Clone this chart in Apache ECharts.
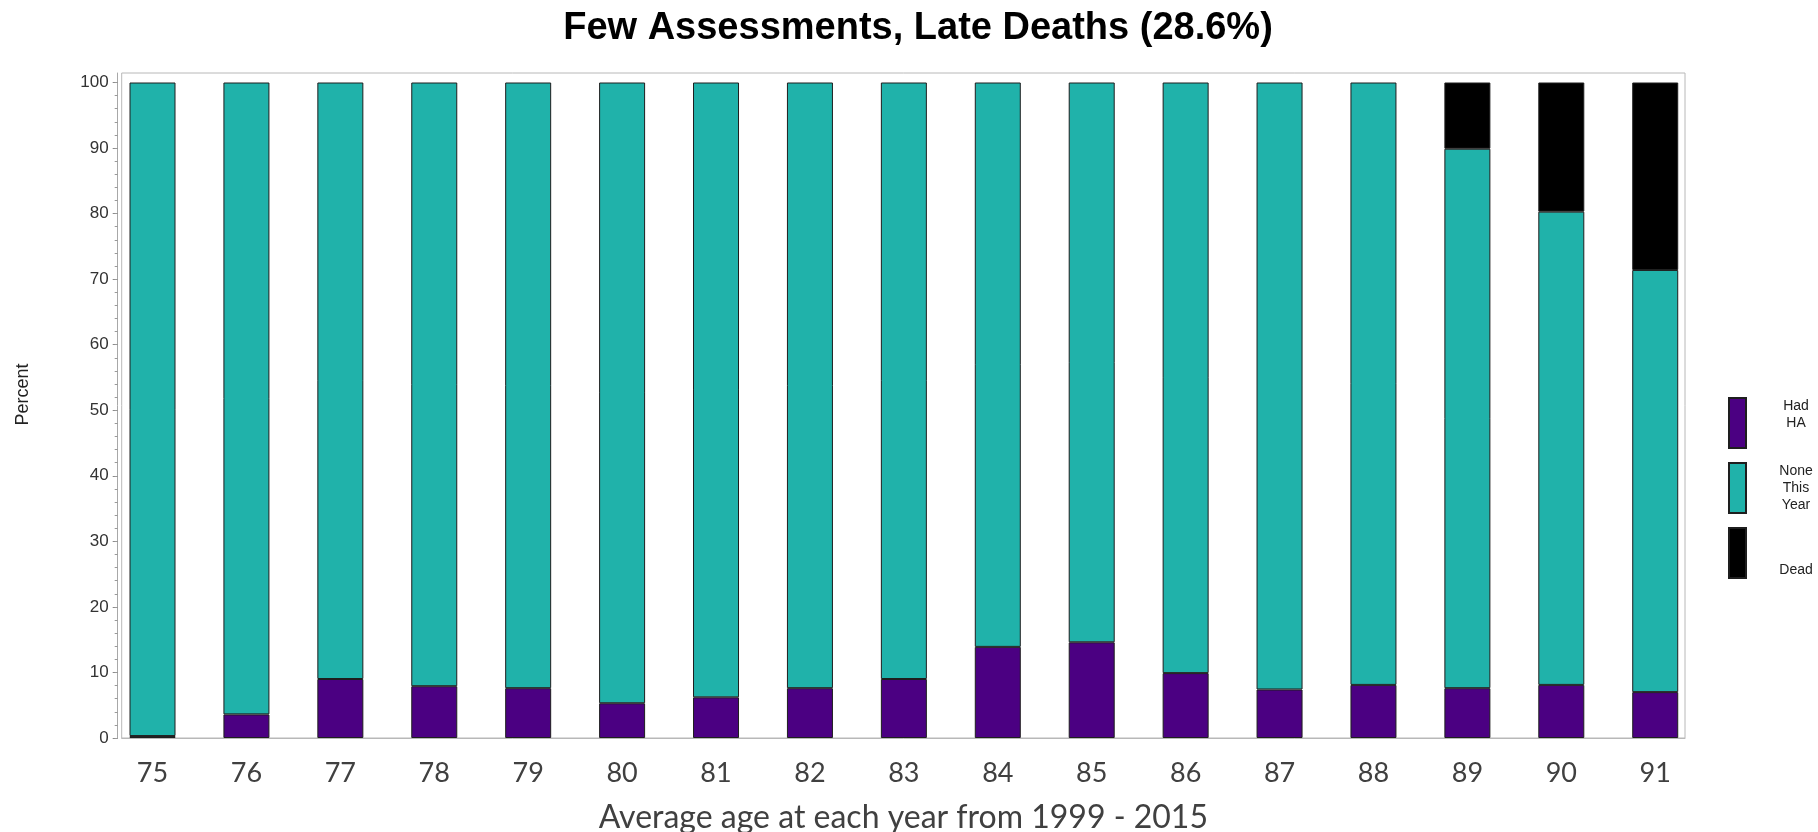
<!DOCTYPE html>
<html>
<head>
<meta charset="utf-8">
<title>Few Assessments, Late Deaths</title>
<script src="https://cdn.jsdelivr.net/npm/echarts@6/dist/echarts.min.js"></script>
<style>
  html, body { margin: 0; padding: 0; background: #ffffff; }
  #chart { width: 1818px; height: 832px; }
</style>
</head>
<body>
<div id="chart"></div>
<script>
// Average age at each year of follow-up (1999 - 2015)
const ages = [75, 76, 77, 78, 79, 80, 81, 82, 83, 84, 85, 86, 87, 88, 89, 90, 91];

// Percent of the cohort in each state per year
const hadHA        = [0.3, 3.6, 9.0, 7.9, 7.6, 5.3, 6.2, 7.6, 9.0, 13.9, 14.6, 9.9, 7.4, 8.1, 7.6, 8.1, 7.0];
const noneThisYear = [99.7, 96.4, 91.0, 92.1, 92.4, 94.7, 93.8, 92.4, 91.0, 86.1, 85.4, 90.1, 92.6, 91.9, 82.3, 72.2, 64.4];
const dead         = [null, null, null, null, null, null, null, null, null, null, null, null, null, null, 10.1, 19.7, 28.6];

const percentTicks = [0, 10, 20, 30, 40, 50, 60, 70, 80, 90, 100];
const percentMinorTicks = [];
for (let v = 0; v <= 100; v += 2) percentMinorTicks.push(v);

const seriesDefs = [
  { name: 'Had\nHA', values: hadHA, color: '#4B0082' },
  { name: 'None\nThis\nYear', values: noneThisYear, color: '#20B2AA' },
  { name: 'Dead', values: dead, color: '#000000' }
];

const legendLabels = {
  'Had\nHA': '{c|Had}\n{c|HA}\n{c|}',
  'None\nThis\nYear': '{c|None}\n{c|This}\n{c|Year}',
  'Dead': '{c|}\n{c|}\n{c|Dead}'
};

const chart = echarts.init(document.getElementById('chart'), null, { renderer: 'canvas' });

const option = {
  backgroundColor: '#ffffff',
  animation: false,
  title: {
    text: 'Few Assessments, Late Deaths (28.6%)',
    left: 913,
    top: 5,
    textAlign: 'center',
    textStyle: {
      fontFamily: 'Liberation Sans, Arial, sans-serif',
      fontWeight: 'bold',
      fontSize: 38,
      color: '#000000'
    }
  },
  legend: {
    orient: 'vertical',
    left: 1723,
    top: 392,
    itemWidth: 17,
    itemHeight: 50,
    itemGap: 13,
    icon: 'rect',
    selectedMode: false,
    data: seriesDefs.map(s => s.name),
    formatter: name => legendLabels[name],
    textStyle: {
      fontFamily: 'Liberation Sans, Arial, sans-serif',
      fontSize: 14,
      color: '#222222',
      lineHeight: 17,
      rich: {
        c: {
          width: 90,
          align: 'center',
          fontFamily: 'Liberation Sans, Arial, sans-serif',
          fontSize: 14,
          lineHeight: 17,
          color: '#222222'
        }
      }
    }
  },
  grid: {
    left: 121.7,
    right: 133,
    top: 73,
    bottom: 94,
    outerBoundsMode: 'none',
    show: true,
    borderColor: '#b8b8b8',
    borderWidth: 1,
    backgroundColor: 'transparent'
  },
  xAxis: {
    type: 'value',
    min: 74.672,
    max: 91.317,
    name: 'Average age at each year from 1999 - 2015',
    nameLocation: 'middle',
    nameGap: 64,
    nameTextStyle: {
      fontFamily: 'Lato, sans-serif',
      fontSize: 32,
      color: '#404040'
    },
    splitLine: { show: false },
    axisLine: { show: true, lineStyle: { color: '#b8b8b8', width: 1 } },
    axisTick: { show: false },
    axisLabel: {
      customValues: ages,
      formatter: v => String(v),
      margin: 22,
      fontFamily: 'Lato, sans-serif',
      fontSize: 27,
      color: '#404040'
    }
  },
  yAxis: [
    {
      type: 'value',
      min: 0,
      max: 101.45,
      offset: 4,
      name: 'Percent',
      nameLocation: 'middle',
      nameGap: 86,
      nameTextStyle: {
        fontFamily: 'Liberation Sans Narrow, Liberation Sans, Arial, sans-serif',
        fontSize: 18,
        color: '#222222',
        padding: [0, 0, 0, 22]
      },
      splitLine: { show: false },
      axisLine: { show: true, lineStyle: { color: '#a8a8a8', width: 1 } },
      axisTick: {
        show: true,
        customValues: percentTicks,
        length: 5,
        lineStyle: { color: '#8a8a8a' }
      },
      axisLabel: {
        customValues: percentTicks,
        margin: 9,
        fontFamily: 'Liberation Sans, Arial, sans-serif',
        fontSize: 17,
        color: '#333333'
      }
    },
    {
      type: 'value',
      min: 0,
      max: 101.45,
      offset: 4,
      position: 'left',
      splitLine: { show: false },
      axisLine: { show: false },
      axisTick: {
        show: true,
        customValues: percentMinorTicks,
        length: 3,
        lineStyle: { color: '#9a9a9a' }
      },
      axisLabel: { show: false }
    }
  ],
  // Each data item is [percent, age]; the percent column comes first so the
  // stack accumulates along the vertical (percent) dimension.
  series: seriesDefs.map(s => ({
    name: s.name,
    type: 'bar',
    stack: 'share',
    barWidth: 46,
    xAxisIndex: 0,
    yAxisIndex: 0,
    encode: { x: 1, y: 0 },
    data: ages.map((age, i) => [s.values[i], age]),
    itemStyle: {
      color: s.color,
      borderColor: '#1e1e1e',
      borderWidth: 1
    },
    emphasis: { disabled: true }
  }))
};

chart.setOption(option);
</script>
</body>
</html>
